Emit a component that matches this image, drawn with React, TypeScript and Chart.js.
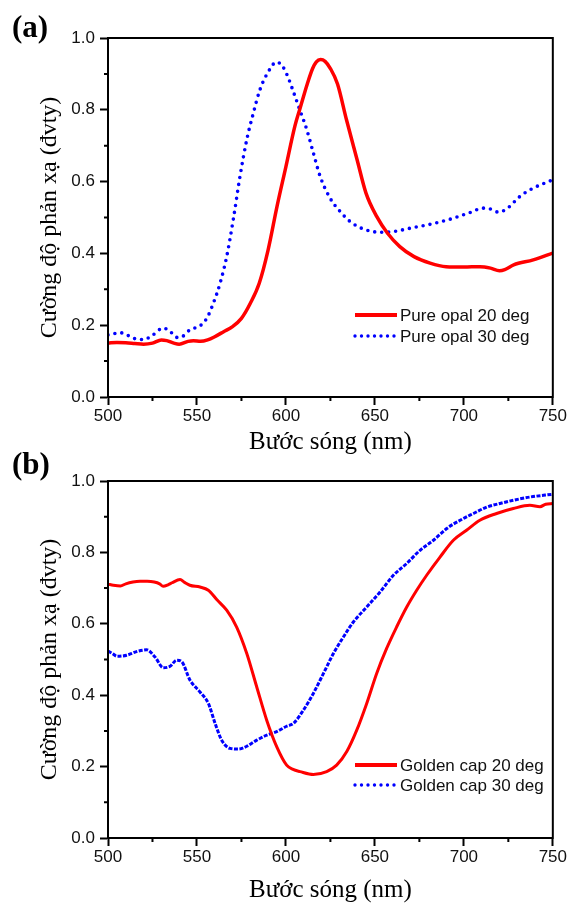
import React, { useEffect, useRef } from "react";
import { Chart, registerables } from "chart.js";

Chart.register(...registerables);

// ---------- axis ticks ----------
const X_TICKS = [500, 550, 600, 650, 700, 750];
const Y_TICKS = [0, 0.2, 0.4, 0.6, 0.8, 1.0];

// ---------- panel (a): pure opal ----------
const opal20Wl = [500, 505, 510, 515, 520, 525, 530, 533, 537, 540, 545, 548, 552, 556, 560, 565, 570, 575, 580, 585, 590, 595, 600, 605, 608, 612, 615, 617, 619.5, 622, 625, 629, 634, 640, 645, 651, 657, 664, 672, 681, 690, 700, 709, 715, 720, 723, 728, 739, 750];
const opal20 = [0.150, 0.152, 0.151, 0.149, 0.147, 0.150, 0.159, 0.157, 0.150, 0.147, 0.155, 0.157, 0.155, 0.159, 0.168, 0.182, 0.196, 0.219, 0.261, 0.317, 0.410, 0.531, 0.642, 0.754, 0.805, 0.872, 0.915, 0.933, 0.940, 0.935, 0.915, 0.872, 0.773, 0.661, 0.568, 0.503, 0.457, 0.419, 0.391, 0.373, 0.363, 0.362, 0.363, 0.359, 0.352, 0.355, 0.368, 0.382, 0.401];

const opal30Wl = [500, 503, 507, 511, 514, 520, 525, 531, 535, 538.6, 542, 546, 551.7, 555.5, 559.2, 563, 566.7, 570.4, 574.2, 578, 581.7, 585.4, 589.2, 594.8, 598, 601, 604, 608, 611.7, 615.4, 619.2, 624.8, 630.4, 636, 643.5, 652.9, 660.4, 671.6, 682.9, 694.1, 703.5, 711, 714.7, 719.4, 724.1, 731.6, 739.1, 750];
const opal30 = [0.173, 0.176, 0.179, 0.172, 0.164, 0.160, 0.172, 0.192, 0.182, 0.166, 0.169, 0.187, 0.198, 0.219, 0.261, 0.317, 0.391, 0.494, 0.615, 0.717, 0.791, 0.856, 0.898, 0.933, 0.922, 0.893, 0.853, 0.797, 0.745, 0.680, 0.615, 0.554, 0.517, 0.489, 0.468, 0.459, 0.461, 0.472, 0.483, 0.498, 0.514, 0.526, 0.524, 0.515, 0.524, 0.559, 0.582, 0.605];

// ---------- panel (b): golden cap ----------
const gold20Wl = [500, 503, 507, 510, 514, 518, 522, 526, 529, 531, 534, 536, 540.5, 543, 546, 551.7, 556.4, 561.1, 566.7, 572.3, 578, 583.6, 589.2, 594.8, 600.4, 604, 607.9, 615.4, 622.9, 628.5, 634.2, 639.8, 645.4, 651, 656.6, 662.2, 667.9, 673.5, 679.1, 686.6, 694.1, 701.5, 709, 718.4, 727.8, 737.1, 742.8, 746, 750];
const gold20 = [0.711, 0.708, 0.706, 0.712, 0.717, 0.719, 0.719, 0.717, 0.712, 0.705, 0.710, 0.715, 0.724, 0.716, 0.708, 0.703, 0.694, 0.668, 0.638, 0.591, 0.517, 0.423, 0.330, 0.256, 0.204, 0.192, 0.186, 0.178, 0.186, 0.204, 0.242, 0.302, 0.377, 0.461, 0.531, 0.591, 0.647, 0.694, 0.736, 0.787, 0.834, 0.862, 0.890, 0.909, 0.923, 0.932, 0.928, 0.935, 0.937];

const gold30Wl = [500, 503, 505, 510.5, 516, 521.7, 526.4, 531.1, 534.9, 538.6, 541.4, 546.1, 551.7, 556.4, 560.2, 563.9, 568.6, 573.3, 578, 583.6, 589.2, 594.8, 600.4, 604.2, 609.8, 615.4, 621.1, 626.7, 632.3, 637.9, 645.4, 652.9, 660.4, 667.9, 675.4, 682.9, 690.4, 697.9, 705.4, 712.9, 720.3, 727.8, 737.1, 750];
const gold30 = [0.524, 0.515, 0.509, 0.512, 0.522, 0.527, 0.507, 0.477, 0.481, 0.498, 0.494, 0.442, 0.409, 0.377, 0.321, 0.274, 0.251, 0.249, 0.257, 0.274, 0.288, 0.298, 0.313, 0.321, 0.358, 0.405, 0.461, 0.517, 0.563, 0.605, 0.647, 0.689, 0.736, 0.769, 0.806, 0.834, 0.867, 0.890, 0.909, 0.927, 0.937, 0.946, 0.955, 0.963];

const X_TITLE = "Bước sóng (nm)";
const Y_TITLE = "Cường độ phản xạ (đvty)";

const SANS = "'Liberation Sans', Arial, sans-serif";
const SERIF = "'Liberation Serif', 'Times New Roman', serif";

type Series = { label: string; x: number[]; y: number[]; color: string; width: number; dash: number[] };

const frameLegendPlugin = {
  id: "frameLegend",
  afterDraw(chart: any, _args: any, opts: any) {
    const { ctx, chartArea: a, scales } = chart;
    const xs = scales.x;
    const ys = scales.y;
    ctx.save();
    ctx.strokeStyle = "#000";
    ctx.lineWidth = 2;
    ctx.setLineDash([]);
    ctx.strokeRect(a.left, a.top, a.right - a.left, a.bottom - a.top);
    // minor ticks
    ctx.beginPath();
    for (let i = 0; i < X_TICKS.length - 1; i++) {
      const px = xs.getPixelForValue((X_TICKS[i] + X_TICKS[i + 1]) / 2);
      ctx.moveTo(px, a.bottom);
      ctx.lineTo(px, a.bottom + 4);
    }
    for (let i = 0; i < Y_TICKS.length - 1; i++) {
      const py = ys.getPixelForValue((Y_TICKS[i] + Y_TICKS[i + 1]) / 2);
      ctx.moveTo(a.left, py);
      ctx.lineTo(a.left - 4, py);
    }
    ctx.stroke();
    // legend
    const ly: number[] = opts.rows || [];
    chart.data.datasets.forEach((ds: any, i: number) => {
      const y = a.top + ly[i];
      ctx.beginPath();
      ctx.strokeStyle = ds.borderColor;
      ctx.lineWidth = ds.legendWidth;
      ctx.setLineDash(ds.legendDash || []);
      ctx.lineCap = ds.legendDash && ds.legendDash.length ? "round" : "butt";
      ctx.moveTo(opts.x0, y);
      ctx.lineTo(opts.x1, y);
      ctx.stroke();
      ctx.setLineDash([]);
      ctx.fillStyle = "#111";
      ctx.font = `17px ${SANS}`;
      ctx.textBaseline = "middle";
      ctx.textAlign = "left";
      ctx.fillText(ds.label, opts.x1 + 3, y + 1);
    });
    ctx.restore();
  },
};

type PanelProps = {
  top: number;
  height: number;
  padTop: number;
  xAxisHeight: number;
  titlePadBottom: number;
  series: Series[];
  legendRows: number[];
};

function Panel(p: PanelProps) {
  const ref = useRef<HTMLCanvasElement | null>(null);
  useEffect(() => {
    if (!ref.current) return;
    const chart = new Chart(ref.current, {
      type: "line",
      data: {
        datasets: p.series.map((s) => ({
          label: s.label,
          data: s.x.map((x, i) => ({ x, y: s.y[i] })),
          borderColor: s.color,
          borderWidth: s.width,
          borderDash: s.dash,
          borderCapStyle: s.dash.length && s.dash[0] === 0 ? "round" : "butt",
          legendWidth: s.dash.length ? 3.4 : 4,
          legendDash: s.dash.length ? [0, 6.5] : [],
          pointRadius: 0,
          fill: false,
          cubicInterpolationMode: "monotone",
        })) as any,
      },
      options: {
        animation: false,
        responsive: false,
        events: [],
        layout: { padding: { left: 0, right: 15, top: p.padTop, bottom: 0 } },
        plugins: {
          legend: { display: false },
          tooltip: { enabled: false },
          frameLegend: { rows: p.legendRows, x0: 355, x1: 397 },
        } as any,
        scales: {
          x: {
            type: "linear",
            min: 500,
            max: 750,
            afterFit: (s: any) => {
              s.height = p.xAxisHeight;
            },
            ticks: {
              stepSize: 50,
              padding: 1,
              color: "#111",
              font: { family: SANS, size: 17 },
              maxRotation: 0,
            },
            grid: {
              display: true,
              drawOnChartArea: false,
              drawTicks: true,
              tickLength: 8,
              tickWidth: 2,
              tickColor: "#000",
            },
            border: { display: true, color: "#000", width: 2 },
            title: {
              display: true,
              text: X_TITLE,
              color: "#000",
              font: { family: SERIF, size: 25 },
              padding: { top: 0, bottom: p.titlePadBottom },
            },
          },
          y: {
            type: "linear",
            min: 0,
            max: 1,
            afterFit: (s: any) => {
              s.width = 108;
            },
            ticks: {
              stepSize: 0.2,
              padding: 5,
              color: "#111",
              font: { family: SANS, size: 17 },
              callback: (v: any) => Number(v).toFixed(1),
            },
            grid: {
              display: true,
              drawOnChartArea: false,
              drawTicks: true,
              tickLength: 8,
              tickWidth: 2,
              tickColor: "#000",
            },
            border: { display: true, color: "#000", width: 2 },
            title: {
              display: true,
              text: Y_TITLE,
              color: "#000",
              font: { family: SERIF, size: 24 },
              padding: { top: 35, bottom: 0 },
            },
          },
        },
      } as any,
      plugins: [frameLegendPlugin as any],
    });
    return () => chart.destroy();
  }, []);
  return (
    <canvas
      ref={ref}
      width={568}
      height={p.height}
      style={{ position: "absolute", left: 0, top: p.top, width: 568, height: p.height }}
    />
  );
}

const labelStyle: React.CSSProperties = {
  position: "absolute",
  left: 12,
  fontFamily: SERIF,
  fontWeight: "bold",
  fontSize: 31,
  lineHeight: "32px",
  color: "#000",
};

export default function App() {
  const seriesA: Series[] = [
    { label: "Pure opal 20 deg", x: opal20Wl, y: opal20, color: "#ff0000", width: 3.5, dash: [] },
    { label: "Pure opal 30 deg", x: opal30Wl, y: opal30, color: "#0000ff", width: 3.6, dash: [0, 7] },
  ];
  const seriesB: Series[] = [
    { label: "Golden cap 20 deg", x: gold20Wl, y: gold20, color: "#ff0000", width: 3, dash: [] },
    { label: "Golden cap 30 deg", x: gold30Wl, y: gold30, color: "#0000ff", width: 3, dash: [4, 1.5] },
  ];
  return (
    <div style={{ position: "fixed", left: 0, top: 0, width: 568, height: 905, background: "#fff", overflow: "hidden" }}>
      <Panel top={0} height={458} padTop={38} xAxisHeight={61} titlePadBottom={1} series={seriesA} legendRows={[277, 298]} />
      <Panel top={458} height={447} padTop={23} xAxisHeight={67} titlePadBottom={0} series={seriesB} legendRows={[284, 304]} />
      <div style={{ ...labelStyle, top: 11 }}>(a)</div>
      <div style={{ ...labelStyle, top: 448 }}>(b)</div>
    </div>
  );
}
